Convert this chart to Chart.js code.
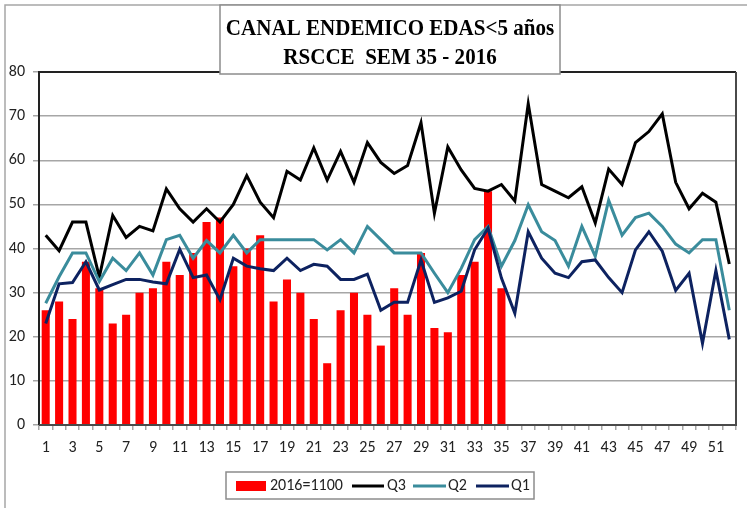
<!DOCTYPE html>
<html>
<head>
<meta charset="utf-8">
<script src="https://cdn.jsdelivr.net/npm/chart.js@4/dist/chart.umd.min.js"></script>
<style>
  html, body { margin: 0; padding: 0; background: #fff; }
  canvas { display: block; }
</style>
</head>
<body>
<canvas id="canalChart" width="747" height="508"></canvas>
<script>
// Canal endemico EDAs < 5 años - RSCCE semana 35, 2016

const semanas = ['1','2','3','4','5','6','7','8','9','10','11','12','13','14','15','16','17','18','19','20',
  '21','22','23','24','25','26','27','28','29','30','31','32','33','34','35','36','37','38','39','40',
  '41','42','43','44','45','46','47','48','49','50','51','52'];

// casos 2016 (hasta la semana 35)
const casos2016 = [26, 28, 24, 37, 31, 23, 25, 30, 31, 37, 34, 39, 46, 47, 36, 40, 43, 28, 33, 30,
  24, 14, 26, 30, 25, 18, 31, 25, 39, 22, 21, 34, 37, 53, 31];

const q3 = [43, 39.5, 46, 46, 33.5, 47.5, 42.5, 45, 44, 53.5, 49, 46, 49, 46, 50, 56.5, 50.5, 47, 57.5, 55.5,
  62.8, 55.5, 62, 55, 64, 59.5, 57, 58.8, 68.5, 48, 63, 57.8, 53.6, 53, 54.5, 50.8, 72.8, 54.5, 53, 51.5,
  54, 45.8, 58, 54.5, 64, 66.5, 70.5, 55, 49, 52.5, 50.5, 36.5];

const q2 = [27.6, 33.6, 39, 39, 32.5, 37.8, 35, 39, 34, 42, 43, 37.8, 41.8, 39, 43, 39, 42, 42, 42, 42,
  42, 39.7, 42, 39, 45, 42, 39, 39, 39, 34.4, 30, 35.5, 42, 45, 36, 41.8, 49.9, 43.8, 41.8, 36,
  45, 38.2, 50.9, 43, 47, 48, 45, 41, 39, 42, 42, 26];

const q1 = [23, 32, 32.3, 37, 30.6, 31.8, 33, 33, 32.4, 32, 39.8, 33.4, 34, 28.4, 37.8, 36, 35.4, 35, 37.8, 35,
  36.4, 36, 33, 33, 34.2, 26, 27.8, 27.8, 37.4, 27.8, 28.8, 30.3, 39.7, 44.6, 33.3, 25.3, 43.8, 37.8, 34.4, 33.4,
  37, 37.4, 33.4, 30, 39.7, 43.8, 39.4, 30.5, 34.4, 18.5, 35, 19.4];

const yTicks = [0, 10, 20, 30, 40, 50, 60, 70, 80];

const titulo = ['CANAL ENDEMICO EDAS<5 años', 'RSCCE  SEM 35 - 2016'];
const etiquetaCasos = '2016=1100';

const tickFont = { family: 'Carlito, Lato, sans-serif', size: 16 };

// marco exterior, marco del area, titulo y leyenda
const decoracion = {
  id: 'decoracion',
  beforeDraw(chart) {
    const ctx = chart.ctx;
    ctx.save();
    ctx.fillStyle = '#fff';
    ctx.fillRect(0, 0, chart.width, chart.height);
    ctx.strokeStyle = '#a6a6a6';
    ctx.lineWidth = 1.5;
    ctx.beginPath();
    ctx.moveTo(5, chart.height);
    ctx.lineTo(5, 5);
    ctx.lineTo(chart.width, 5);
    ctx.stroke();
    ctx.restore();
  },
  afterDraw(chart) {
    const ctx = chart.ctx;
    const a = chart.chartArea;
    ctx.save();
    // marco del area de trazado
    ctx.lineWidth = 2;
    ctx.strokeStyle = '#222';
    ctx.beginPath();
    ctx.moveTo(a.left, a.bottom);
    ctx.lineTo(a.left, a.top);
    ctx.lineTo(a.right, a.top);
    ctx.stroke();
    ctx.strokeStyle = '#4a4a4a';
    ctx.beginPath();
    ctx.moveTo(a.right, a.top);
    ctx.lineTo(a.right, a.bottom);
    ctx.lineTo(a.left, a.bottom);
    ctx.stroke();

    // caja del titulo
    ctx.fillStyle = '#fff';
    ctx.fillRect(220, 5, 340, 69);
    ctx.strokeStyle = '#8c8c8c';
    ctx.lineWidth = 1.5;
    ctx.strokeRect(220, 5, 340, 69);
    ctx.save();
    ctx.translate(390, 0);
    ctx.scale(0.915, 1);
    ctx.fillStyle = '#000';
    ctx.font = 'bold 23px "Liberation Serif", serif';
    ctx.textAlign = 'center';
    ctx.textBaseline = 'alphabetic';
    ctx.fillText(titulo[0], 0, 35);
    ctx.fillText(titulo[1], 0, 64);
    ctx.restore();

    // leyenda
    const ds = chart.data.datasets;
    ctx.fillStyle = '#fff';
    ctx.fillRect(226, 472, 308, 27);
    ctx.strokeStyle = '#8c8c8c';
    ctx.lineWidth = 1.5;
    ctx.strokeRect(226, 472, 308, 27);
    ctx.font = '16px Carlito, Lato, sans-serif';
    ctx.textAlign = 'left';
    ctx.textBaseline = 'middle';
    const yMid = 486;
    ctx.fillStyle = ds[0].backgroundColor;
    ctx.fillRect(236, 481, 30, 10);
    ctx.fillStyle = '#222';
    ctx.fillText(ds[0].label, 270, yMid);
    const items = [[352, 384, 387], [413, 446, 448], [476, 509, 511]];
    for (let i = 1; i < ds.length; i++) {
      const it = items[i - 1];
      ctx.strokeStyle = ds[i].borderColor;
      ctx.lineWidth = 3;
      ctx.beginPath();
      ctx.moveTo(it[0], yMid);
      ctx.lineTo(it[1], yMid);
      ctx.stroke();
      ctx.fillStyle = '#222';
      ctx.fillText(ds[i].label, it[2], yMid);
    }
    ctx.restore();
  }
};

new Chart(document.getElementById('canalChart').getContext('2d'), {
  data: {
    labels: semanas,
    datasets: [
      {
        type: 'bar',
        label: etiquetaCasos,
        data: casos2016,
        backgroundColor: '#ff0000',
        barPercentage: 0.6,
        categoryPercentage: 1,
        order: 10
      },
      {
        type: 'line',
        label: 'Q3',
        data: q3,
        borderColor: '#000000',
        borderWidth: 3,
        pointRadius: 0,
        tension: 0,
        fill: false,
        order: 3
      },
      {
        type: 'line',
        label: 'Q2',
        data: q2,
        borderColor: '#3a8c9c',
        borderWidth: 3,
        pointRadius: 0,
        tension: 0,
        fill: false,
        order: 2
      },
      {
        type: 'line',
        label: 'Q1',
        data: q1,
        borderColor: '#0d2260',
        borderWidth: 3,
        pointRadius: 0,
        tension: 0,
        fill: false,
        order: 1
      }
    ]
  },
  options: {
    responsive: false,
    animation: false,
    layout: { padding: { top: 72, right: 11, bottom: 0, left: 0 } },
    plugins: {
      legend: { display: false },
      title: { display: false },
      tooltip: { enabled: false }
    },
    scales: {
      x: {
        offset: true,
        grid: {
          offset: true,
          drawOnChartArea: false,
          drawTicks: true,
          tickLength: 5,
          color: '#a6a6a6',
          lineWidth: 1.5
        },
        border: { display: false },
        ticks: {
          autoSkip: false,
          maxRotation: 0,
          padding: 8,
          color: '#222',
          font: tickFont,
          callback: (v, i) => (i % 2 === 0 ? semanas[i] : '')
        },
        afterFit(scale) { scale.height = 83; }
      },
      y: {
        min: 0,
        max: 80,
        afterBuildTicks(scale) { scale.ticks = yTicks.map(v => ({ value: v })); },
        grid: {
          color: '#a6a6a6',
          lineWidth: 1.5,
          tickLength: 6
        },
        border: { display: false },
        ticks: {
          padding: 8,
          color: '#222',
          font: tickFont
        },
        afterFit(scale) { scale.width = 39; }
      }
    }
  },
  plugins: [decoracion]
});
</script>
</body>
</html>
